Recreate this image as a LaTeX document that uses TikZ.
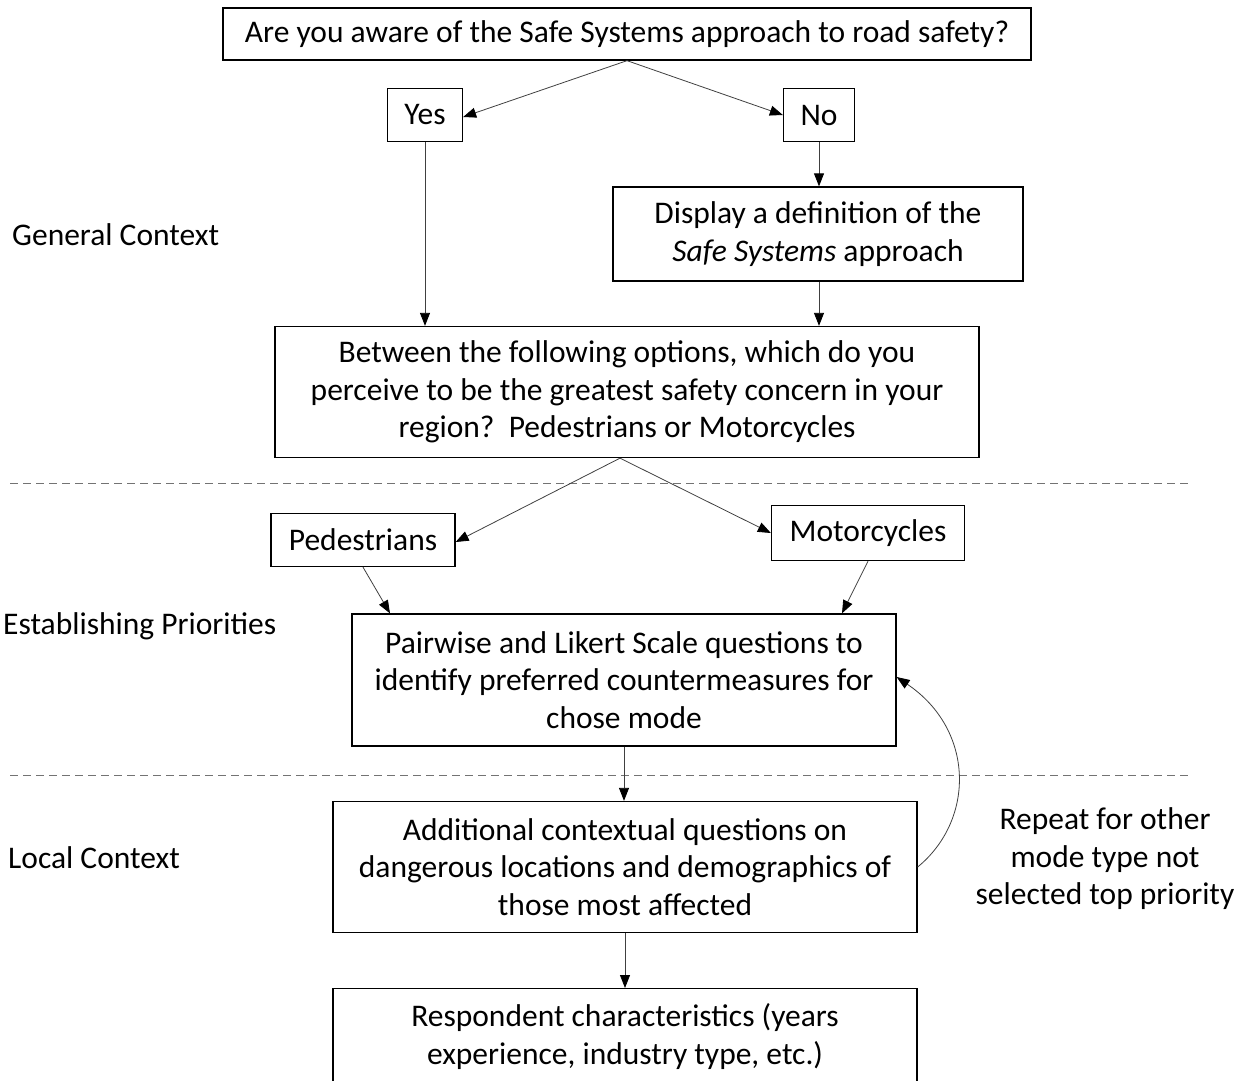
\documentclass[tikz,border=0pt]{standalone}
\usepackage{fontspec}
\setmainfont{Carlito}
\usetikzlibrary{arrows.meta}

\begin{document}
\begin{tikzpicture}[x=1pt,y=-1pt,
    every node/.style={font=\fontsize{31.5}{37.5}\selectfont},
    box/.style={draw,line width=1.3pt,align=center,inner sep=0pt},
    conn/.style={-{Triangle[length=13pt,width=10pt,color=black]},line width=0.8pt,draw=black!75},
    sep/.style={draw=black!55,line width=0.8pt,dash pattern=on 8pt off 5pt}]
    \useasboundingbox (0,0) rectangle (1247,1080);
    % question boxes
    \node[box,minimum width=808,minimum height=52] (aware) at (627,34)
      {Are you aware of the Safe Systems approach to road safety?};
    \node[box,minimum width=75,minimum height=53] (yes) at (425,115) {Yes};
    \node[box,minimum width=71,minimum height=53] (no) at (819,115) {No};
    \node[box,minimum width=410,minimum height=94] (define) at (818,234)
      {Display a definition of the\\\textit{Safe Systems} approach};
    \node[box,minimum width=704,minimum height=131] (concern) at (627,392)
      {Between the following options, which do you\\perceive to be the greatest safety concern in your\\region?\ \ Pedestrians or Motorcycles};
    \node[box,minimum width=184,minimum height=53] (peds) at (363,540) {Pedestrians};
    \node[box,minimum width=193,minimum height=55] (motos) at (868,533) {Motorcycles};
    \node[box,minimum width=544,minimum height=132] (pairwise) at (624,680)
      {Pairwise and Likert Scale questions to\\identify preferred countermeasures for\\chose mode};
    \node[box,minimum width=584,minimum height=131] (local) at (625,867)
      {Additional contextual questions on\\dangerous locations and demographics of\\those most affected};
    \node[box,minimum width=584,minimum height=96,anchor=north] (respond) at (625,988)
      {Respondent characteristics (years\\experience, industry type, etc.)};
    % section labels
    \node[anchor=west,inner sep=0pt] (general) at (12,235) {General Context};
    \node[anchor=west,inner sep=0pt] (priority) at (3,626) {Establishing Priorities};
    \node[anchor=west,inner sep=0pt] (localctx) at (8,858) {Local Context};
    \node[align=center,inner sep=0pt] (repeat) at (1105,859)
      {Repeat for other\\mode type not\\selected top priority};
    % section separators
    \coordinate (sepA) at (10,483);
    \coordinate (sepB) at (1190,483);
    \coordinate (sepC) at (10,775);
    \coordinate (sepD) at (1190,775);
    \draw[sep] (sepA) -- (sepB);
    \draw[sep] (sepC) -- (sepD);
    % connectors
    \draw[conn] (aware.south) -- ([yshift=-2pt]yes.east);
    \draw[conn] (aware.south) -- (no.west);
    \draw[conn] (yes.south) -- (yes.south |- concern.north);
    \draw[conn] (no.south) -- (define.north -| no.south);
    \draw[conn] (define.south -| no.south) -- (no.south |- concern.north);
    \draw[conn] ([xshift=-7pt]concern.south) -- ([yshift=-2pt]peds.east);
    \draw[conn] ([xshift=-7pt]concern.south) -- (motos.west);
    \draw[conn] (peds.south) -- ([xshift=-234pt]pairwise.north);
    \draw[conn] (motos.south) -- ([xshift=218pt]pairwise.north);
    \draw[conn] (pairwise.south) -- (local.north -| pairwise.south);
    \draw[conn] (local.south) -- (respond.north);
    \draw[conn] (local.east) .. controls (975,820) and (975,730) .. ([yshift=3pt]pairwise.east);
\end{tikzpicture}
\end{document}
